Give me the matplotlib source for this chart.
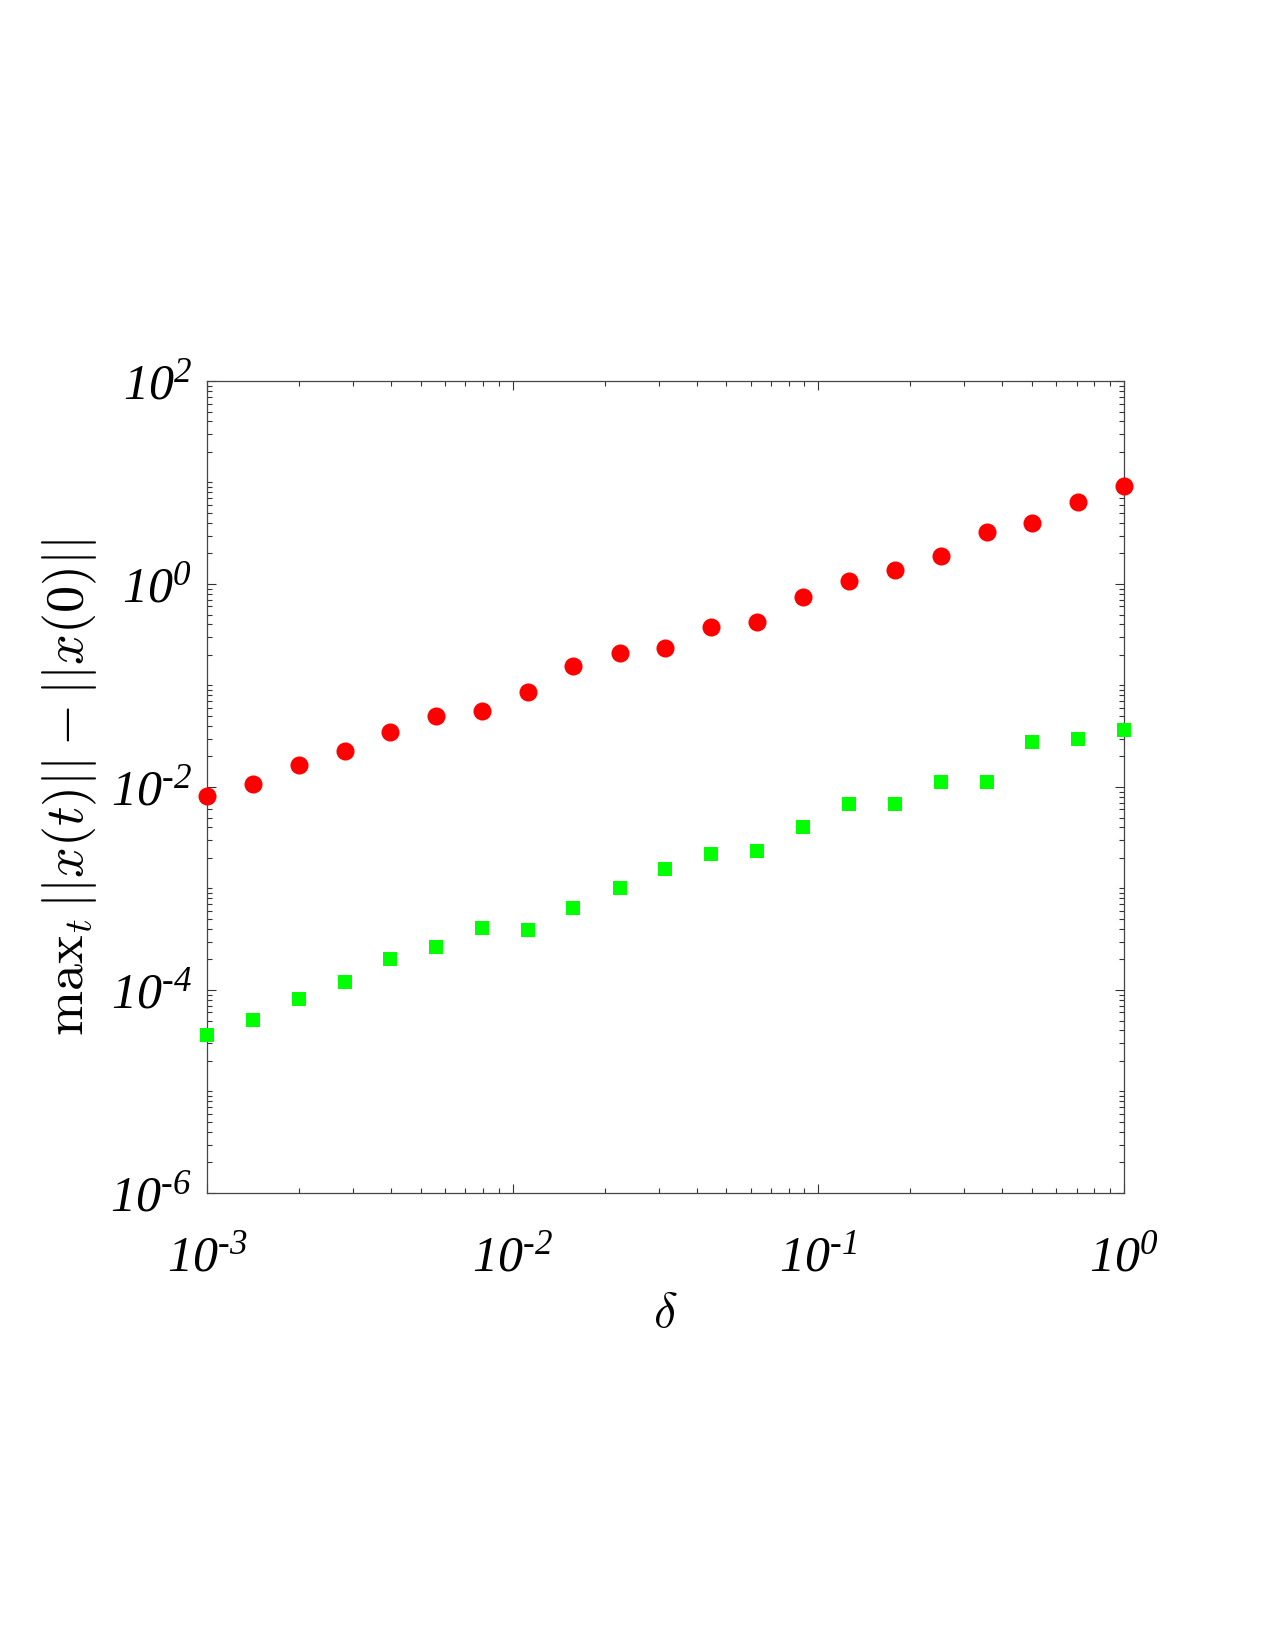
import matplotlib
matplotlib.use("Agg")
import matplotlib.pyplot as plt
from matplotlib.ticker import LogLocator, NullFormatter
import numpy as np

plt.rcParams['mathtext.fontset'] = 'custom'
plt.rcParams['mathtext.rm'] = 'Liberation Serif:italic'
plt.rcParams['mathtext.it'] = 'Liberation Serif:italic'

# step sizes
delta = [0.001, 0.00141, 0.002, 0.00282, 0.00398, 0.00562, 0.00794, 0.0112,
         0.0158, 0.0224, 0.0316, 0.0447, 0.0631, 0.0891, 0.126, 0.178,
         0.251, 0.355, 0.501, 0.708, 1.0]

# red circles
red_err = [0.00815, 0.0107, 0.0166, 0.0228, 0.0348, 0.0501, 0.0565, 0.0863,
           0.156, 0.207, 0.236, 0.380, 0.423, 0.740, 1.08, 1.38,
           1.89, 3.23, 4.02, 6.47, 9.25]

# green squares
green_err = [3.61e-5, 5.06e-5, 8.22e-5, 1.20e-4, 2.04e-4, 2.67e-4, 4.11e-4, 3.90e-4,
             6.38e-4, 1.01e-3, 1.56e-3, 2.20e-3, 2.34e-3, 4.04e-3, 6.81e-3, 6.81e-3,
             0.0111, 0.0112, 0.0280, 0.0295, 0.0362]

xticks = [1e-3, 1e-2, 1e-1, 1e0]
xticklabels = [r'$\mathdefault{10^{‐3}}$', r'$\mathdefault{10^{‐2}}$',
               r'$\mathdefault{10^{‐1}}$', r'$\mathdefault{10^{0}}$']
yticks = [1e-6, 1e-4, 1e-2, 1e0, 1e2]
yticklabels = [r'$\mathdefault{10^{‐6}}$', r'$\mathdefault{10^{‐4}}$',
               r'$\mathdefault{10^{‐2}}$', r'$\mathdefault{10^{0}}$',
               r'$\mathdefault{10^{2}}$']

fig = plt.figure(figsize=(12.75, 16.5), dpi=100)
ax = fig.add_axes([0.1624, 0.2770, 0.7192, 0.4921])

ax.plot(delta, red_err, linestyle='none', marker='o', markersize=13,
        color='#ff0000', markeredgewidth=0, clip_on=False, zorder=3)
ax.plot(delta, green_err, linestyle='none', marker='s', markersize=10,
        color='#00ff00', markeredgewidth=0, clip_on=False, zorder=3)

ax.set_xscale('log')
ax.set_yscale('log')
ax.set_xlim(1e-3, 1e0)
ax.set_ylim(1e-6, 1e2)

tickfont = {'family': 'Liberation Serif', 'style': 'italic', 'size': 36}
ax.set_xticks(xticks)
ax.set_xticklabels(xticklabels, fontdict=tickfont)
ax.set_yticks(yticks)
ax.set_yticklabels(yticklabels, fontdict=tickfont)
ax.xaxis.set_minor_locator(LogLocator(base=10, subs=np.arange(1, 10), numticks=100))
ax.yaxis.set_minor_locator(LogLocator(base=10, subs=np.arange(1, 10), numticks=100))
ax.xaxis.set_minor_formatter(NullFormatter())
ax.yaxis.set_minor_formatter(NullFormatter())

ax.tick_params(which='both', direction='in', top=True, right=True,
               color='#333333', width=0.8)
ax.tick_params(which='major', length=6.5)
ax.tick_params(which='minor', length=3.5)
ax.tick_params(axis='x', which='major', pad=30)
ax.tick_params(axis='y', which='major', pad=11)
for s in ax.spines.values():
    s.set_color('#444444')
    s.set_linewidth(0.9)

ax.set_xlabel(r'$\delta$', fontsize=36, math_fontfamily='cm', labelpad=6)
ax.set_ylabel(r'$\mathrm{max}_t\,||x(t)||-||x(0)||$', fontsize=39,
              math_fontfamily='cm', labelpad=8)

fig.savefig('out.png', dpi=100, facecolor='white')
